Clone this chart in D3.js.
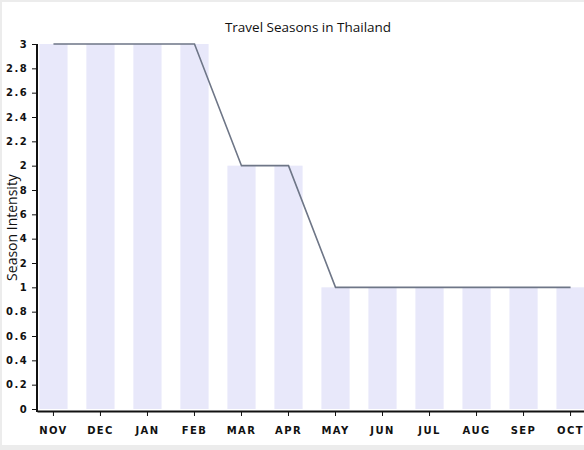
<!DOCTYPE html>
<html>
<head>
<meta charset="utf-8">
<script src="https://cdn.jsdelivr.net/npm/d3@7"></script>
<style>
  body { margin: 0; background: #ececec; }
  #chart { position: absolute; left: 2px; top: 2px; background: #fff; }
  .axis path, .axis line { stroke: #111; }
  .axis text { font-family: "DejaVu Sans", Verdana, sans-serif; font-weight: bold; font-size: 10px; letter-spacing: 1.4px; fill: #111; }
</style>
</head>
<body>
<svg id="chart" width="590" height="443"></svg>
<script>
// Data
const months = ['NOV', 'DEC', 'JAN', 'FEB', 'MAR', 'APR', 'MAY', 'JUN', 'JUL', 'AUG', 'SEP', 'OCT'];
const intensity = [3, 3, 3, 3, 2, 2, 1, 1, 1, 1, 1, 1];
const yTicks = [0, 0.2, 0.4, 0.6, 0.8, 1, 1.2, 1.4, 1.6, 1.8, 2, 2.2, 2.4, 2.6, 2.8, 3];

const margin = {left: 35, top: 42, bottom: 36};
const plotH = 365;
const plotW = 550;

const svg = d3.select("#chart");
const g = svg.append("g")
    .attr("transform", `translate(${margin.left}, ${margin.top})`);

const x = d3.scaleBand()
    .domain(months)
    .range([0, plotW])
    .paddingInner(0.4)
    .paddingOuter(0.05);

const y = d3.scaleLinear()
    .domain([0, 3])
    .range([plotH, 0]);

// bars
g.selectAll("rect.bar")
    .data(months)
    .enter()
    .append("rect")
    .attr("class", "bar")
    .attr("x", d => x(d))
    .attr("width", x.bandwidth())
    .attr("y", (d, i) => y(intensity[i]))
    .attr("height", (d, i) => plotH - y(intensity[i]))
    .attr("fill", "#e8e8fa");

// line through band centres
const line = d3.line()
    .x((d, i) => x(months[i]) + x.bandwidth() / 2)
    .y(d => y(d));

g.append("path")
    .datum(intensity)
    .attr("d", line)
    .attr("fill", "none")
    .attr("stroke", "#6e7687")
    .attr("stroke-width", 1.6);

// axes
g.append("g")
    .attr("class", "axis")
    .attr("transform", `translate(0, ${plotH + 2})`)
    .call(d3.axisBottom(x).tickSize(5).tickSizeOuter(0).tickPadding(11))
    .call(a => a.select(".domain").attr("stroke-width", 2));

g.append("g")
    .attr("class", "axis")
    .call(d3.axisLeft(y).tickValues(yTicks).tickFormat(d => d).tickSize(5).tickSizeOuter(0).tickPadding(4))
    .call(a => a.select(".domain").attr("stroke-width", 2).attr("d", `M0,0V${plotH + 3}`));

// title
svg.append("text")
    .attr("x", 306)
    .attr("y", 30)
    .attr("text-anchor", "middle")
    .style("font-family", "'Open Sans', sans-serif")
    .style("font-size", "13.5px")
    .style("fill", "#111")
    .text("Travel Seasons in Thailand");

// y label, sits over the tick labels on a white box
const yLabel = svg.append("g")
    .attr("transform", `translate(15, 225.5) rotate(-90)`);
const yLabelText = yLabel.append("text")
    .attr("text-anchor", "middle")
    .style("font-family", "'Open Sans', sans-serif")
    .style("font-size", "14px")
    .style("fill", "#111")
    .text("Season Intensity");
const bb = yLabelText.node().getBBox();
yLabel.insert("rect", "text")
    .attr("x", bb.x)
    .attr("y", -11)
    .attr("width", bb.width)
    .attr("height", 11.5)
    .attr("fill", "#fff");
</script>
</body>
</html>
